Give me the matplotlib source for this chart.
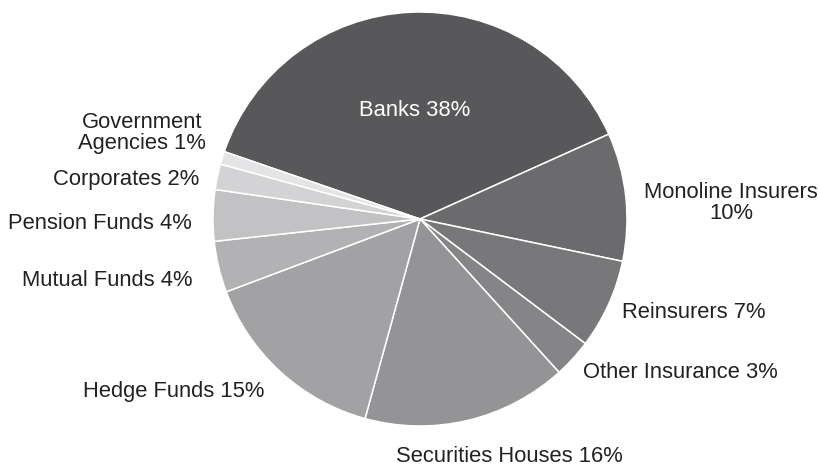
import matplotlib
matplotlib.use("Agg")
import matplotlib.pyplot as plt

# holders by institution type, share of total (%)
categories = [
    "Banks",
    "Monoline Insurers",
    "Reinsurers",
    "Other Insurance",
    "Securities Houses",
    "Hedge Funds",
    "Mutual Funds",
    "Pension Funds",
    "Corporates",
    "Government\nAgencies",
]
shares = [38, 10, 7, 3, 16, 15, 4, 4, 2, 1]

colors = [
    "#58585a", "#6b6b6d", "#78787b", "#858588", "#949497",
    "#a2a2a5", "#b2b2b4", "#c2c2c4", "#d3d3d5", "#e4e4e6",
]

# label anchor points in pixels (x from left, y from top)
label_px = [
    (415, 111), (731, 203), (694, 312), (680, 372), (509, 456),
    (174, 392), (107, 281), (100, 223), (126, 179), (142, 133),
]

plt.rcParams["font.family"] = ["Liberation Sans", "DejaVu Sans"]

W, H = 820, 466
cx, cy, R = 420, 219, 207

fig = plt.figure(figsize=(W / 100, H / 100), dpi=100)
ax = fig.add_axes([0, 0, 1, 1])

ax.pie(
    shares,
    colors=colors,
    startangle=161,
    counterclock=False,
    radius=1,
    wedgeprops=dict(edgecolor="white", linewidth=1.1),
)

ax.set_aspect("auto")
ax.set_xlim(-cx / R, (W - cx) / R)
ax.set_ylim(-(H - cy) / R, cy / R)
ax.axis("off")

for i, (name, val) in enumerate(zip(categories, shares)):
    if name == "Monoline Insurers":
        text = f"{name}\n{val}%"
    else:
        text = f"{name} {val}%"
    px, py = label_px[i]
    ax.text(
        (px - cx) / R,
        (cy - py) / R,
        text,
        ha="center",
        va="center",
        fontsize=15.8,
        color="white" if i == 0 else "#222222",
        multialignment="center",
        linespacing=0.95,
    )

fig.savefig("out.png", dpi=100)
